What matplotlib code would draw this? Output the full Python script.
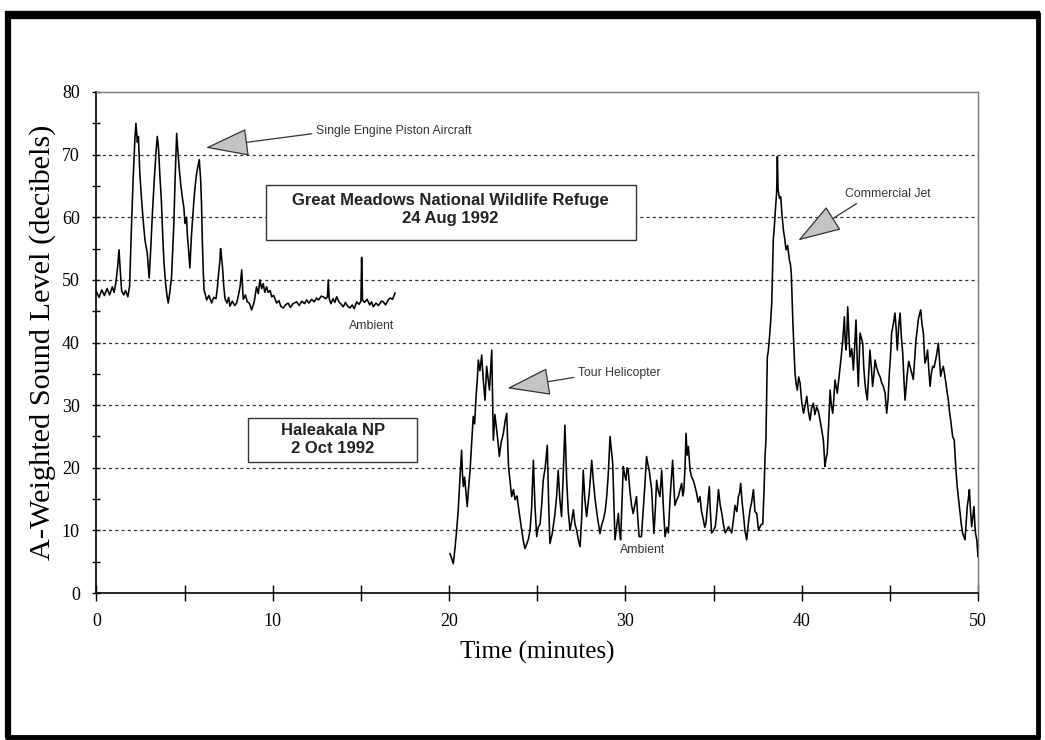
"""Aircraft noise vs ambient: Great Meadows NWR and Haleakala NP"""
import matplotlib
matplotlib.use("Agg")
import matplotlib.pyplot as plt
from matplotlib.patches import Rectangle
from matplotlib.lines import Line2D

# ---- data ----
gm_t = [0.0, 0.15, 0.3, 0.45, 0.6, 0.75, 0.9, 1.0, 1.1, 1.2, 1.28, 1.35, 1.43, 1.55, 1.65, 1.78,
        1.88, 1.98, 2.08, 2.18, 2.24, 2.32, 2.38, 2.46, 2.56, 2.65, 2.75, 2.82, 2.88, 2.94, 2.99,
        3.08, 3.18, 3.28, 3.38, 3.45, 3.52, 3.6, 3.68, 3.76, 3.83, 3.92, 4.0, 4.07, 4.15, 4.26,
        4.33, 4.39, 4.46, 4.55, 4.62, 4.70, 4.79, 4.89, 4.96, 5.02, 5.11, 5.16, 5.21, 5.3, 5.35,
        5.40, 5.46, 5.53, 5.6, 5.68, 5.75, 5.83, 5.91, 5.96, 6.0, 6.05, 6.10, 6.18, 6.25, 6.38,
        6.53, 6.65, 6.78, 6.85, 6.91, 7.0, 7.04, 7.1, 7.15, 7.22, 7.29, 7.4, 7.5, 7.57, 7.7,
        7.85, 7.95, 8.05, 8.15, 8.24, 8.3, 8.33, 8.45, 8.55, 8.67, 8.8, 8.95, 9.08, 9.18, 9.27,
        9.37, 9.46, 9.55, 9.65, 9.74, 9.85, 9.94, 10.05, 10.22, 10.35, 10.45, 10.6, 10.72, 10.87,
        11.0, 11.15, 11.35, 11.5, 11.65, 11.8, 11.92, 12.05, 12.2, 12.35, 12.49, 12.6, 12.75,
        12.86, 13.0, 13.1, 13.15, 13.2, 13.3, 13.42, 13.52, 13.62, 13.75, 13.88, 14.0, 14.12,
        14.25, 14.38, 14.5, 14.62, 14.76, 14.9, 15.0, 15.04, 15.09, 15.2, 15.35, 15.5, 15.6,
        15.7, 15.85, 16.0, 16.15, 16.27, 16.4, 16.55, 16.65, 16.8, 16.93]
gm_db = [48.1, 47.2, 48.4, 47.5, 48.6, 47.6, 48.9, 48.0, 49.5, 52.0, 54.8, 51.5, 48.2, 47.6, 48.3, 47.3,
         49.0, 58.0, 66.0, 72.5, 75.0, 72.0, 72.9, 67.0, 62.8, 59.5, 56.4, 55.2, 54.3, 52.0, 50.3,
         55.0, 61.0, 66.0, 70.5, 72.9, 71.0, 66.5, 62.8, 57.0, 52.7, 49.5, 47.5, 46.3, 47.8, 50.5,
         55.0, 59.0, 66.0, 73.4, 70.5, 67.6, 65.0, 62.8, 61.5, 59.0, 60.0, 57.0, 55.3, 51.9, 55.0,
         57.6, 60.0, 62.8, 65.0, 67.0, 68.0, 69.2, 66.0, 62.0, 56.9, 52.0, 48.4, 47.6, 46.8, 47.5,
         46.3, 47.2, 47.0, 48.5, 50.5, 53.0, 55.0, 53.5, 52.0, 49.0, 47.0, 46.3, 47.2, 45.8, 46.6,
         45.9, 46.3, 47.5, 49.0, 51.6, 48.0, 46.9, 47.6, 46.5, 46.3, 45.2, 46.5, 48.9, 47.8, 50.0,
         48.6, 49.4, 48.0, 48.9, 48.0, 48.3, 47.3, 47.5, 46.3, 46.7, 45.8, 45.5, 46.0, 46.3,
         45.6, 46.2, 46.5, 45.9, 46.6, 46.2, 46.8, 46.3, 46.9, 46.5, 47.1, 46.8, 47.4,
         47.3, 47.0, 47.3, 50.0, 47.0, 46.2, 47.0, 46.4, 47.3, 46.5, 46.1, 45.7, 46.4,
         45.8, 45.5, 46.0, 45.4, 46.5, 46.1, 46.6, 53.6, 46.8, 46.4, 46.9, 46.0, 46.5,
         45.7, 46.3, 45.9, 46.6, 46.5, 46.0, 46.8, 47.1, 46.9, 47.9]

ha_t = [20.05, 20.14, 20.24, 20.33, 20.43, 20.52, 20.6, 20.71, 20.76, 20.81, 20.88, 20.96, 21.03,
        21.1, 21.19, 21.28, 21.37, 21.45, 21.53, 21.6, 21.66, 21.75, 21.85, 21.94, 22.04, 22.13,
        22.2, 22.29, 22.35, 22.42, 22.51, 22.6, 22.7, 22.78, 22.85, 22.95, 23.08, 23.18, 23.27,
        23.37, 23.45, 23.55, 23.65, 23.74, 23.85, 23.93, 24.02, 24.12, 24.2, 24.3, 24.4, 24.5,
        24.59, 24.68, 24.78, 24.87, 24.97, 25.06, 25.16, 25.25, 25.34, 25.45, 25.57, 25.65,
        25.72, 25.85, 26.0, 26.1, 26.19, 26.28, 26.38, 26.47, 26.57, 26.67, 26.76, 26.86, 26.95,
        27.05, 27.14, 27.24, 27.33, 27.43, 27.52, 27.61, 27.7, 27.8, 27.95, 28.09, 28.18, 28.28,
        28.42, 28.56, 28.65, 28.75, 28.85, 28.94, 29.03, 29.13, 29.2, 29.28, 29.35, 29.41, 29.5,
        29.6, 29.66, 29.73, 29.8, 29.88, 29.95, 30.03, 30.1, 30.16, 30.25, 30.35, 30.44, 30.53,
        30.63, 30.7, 30.78, 30.91, 31.01, 31.1, 31.2, 31.28, 31.35, 31.42, 31.49, 31.55, 31.62,
        31.7, 31.77, 31.85, 31.96, 32.06, 32.15, 32.25, 32.35, 32.44, 32.53, 32.6, 32.68, 32.75,
        32.81, 32.9, 33.0, 33.1, 33.19, 33.26, 33.32, 33.38, 33.44, 33.5, 33.57, 33.62, 33.67,
        33.76, 33.85, 33.95, 34.04, 34.13, 34.23, 34.32, 34.42, 34.5, 34.57, 34.66, 34.76, 34.82,
        34.89, 35.0, 35.1, 35.2, 35.28, 35.38, 35.47, 35.56, 35.66, 35.75, 35.85, 35.95, 36.03,
        36.12, 36.22, 36.32, 36.41, 36.48, 36.54, 36.62, 36.69, 36.78, 36.88, 36.97, 37.07,
        37.16, 37.26, 37.35, 37.45, 37.55, 37.64, 37.72, 37.79, 37.86, 37.92, 37.97, 38.05,
        38.1, 38.16, 38.23, 38.3, 38.39, 38.46, 38.52, 38.58, 38.62, 38.66, 38.74, 38.81, 38.88,
        38.96, 39.04, 39.11, 39.2, 39.3, 39.36, 39.41, 39.5, 39.56, 39.62, 39.68, 39.75, 39.83,
        39.91, 40.0, 40.1, 40.2, 40.29, 40.38, 40.47, 40.56, 40.66, 40.75, 40.85, 40.95, 41.04,
        41.14, 41.23, 41.32, 41.38, 41.45, 41.53, 41.61, 41.68, 41.76, 41.82, 41.89, 41.95,
        42.02, 42.1, 42.18, 42.25, 42.33, 42.42, 42.47, 42.52, 42.57, 42.61, 42.68, 42.74,
        42.84, 42.93, 43.0, 43.08, 43.15, 43.21, 43.31, 43.46, 43.52, 43.59, 43.65, 43.72, 43.8,
        43.87, 43.95, 44.02, 44.1, 44.16, 44.25, 44.35, 44.45, 44.54, 44.63, 44.73, 44.82, 44.9,
        44.97, 45.04, 45.1, 45.2, 45.29, 45.36, 45.42, 45.5, 45.58, 45.65, 45.73, 45.8, 45.86,
        45.93, 45.99, 46.07, 46.14, 46.24, 46.33, 46.4, 46.48, 46.55, 46.61, 46.68, 46.75, 46.82,
        46.9, 46.95, 46.99, 47.07, 47.14, 47.2, 47.28, 47.35, 47.43, 47.5, 47.56, 47.65, 47.75,
        47.82, 47.88, 47.95, 48.03, 48.1, 48.18, 48.25, 48.32, 48.38, 48.45, 48.56, 48.65, 48.75,
        48.82, 48.88, 48.98, 49.05, 49.13, 49.2, 49.26, 49.32, 49.39, 49.45, 49.51, 49.58, 49.64,
        49.7, 49.77, 49.82, 49.86, 49.93, 50.0]
ha_db = [6.3, 5.6, 4.7, 7.0, 10.0, 13.3, 17.5, 22.8, 19.0, 17.0, 18.5, 15.9, 13.8,
         16.5, 19.6, 24.0, 28.2, 27.0, 31.4, 34.0, 37.2, 35.5, 38.0, 34.0, 30.8, 36.2,
         34.5, 32.4, 35.5, 38.8, 24.4, 28.5, 26.0, 24.0, 21.8, 24.0, 25.5, 27.5, 28.7,
         20.2, 18.0, 15.4, 16.5, 14.9, 15.5, 13.8, 12.0, 10.0, 8.5, 7.1, 7.8, 8.6,
         10.0, 13.5, 21.2, 14.0, 9.0, 10.5, 11.0, 14.0, 18.0, 20.0, 23.6, 14.0,
         7.9, 9.5, 12.5, 15.5, 19.6, 15.0, 12.2, 18.5, 26.8, 18.0, 13.0, 10.0, 11.5,
         13.3, 11.0, 10.0, 8.5, 7.4, 12.0, 19.6, 15.0, 12.2, 16.0, 21.2, 18.0, 15.0,
         12.0, 9.5, 10.8, 11.7, 13.0, 15.4, 19.0, 25.0, 23.0, 20.7, 14.0, 8.5, 10.5,
         12.7, 10.0, 8.5, 14.0, 20.2, 19.0, 18.0, 20.0, 19.6, 16.5, 14.0, 12.7, 14.0,
         15.4, 12.0, 9.0, 9.0, 13.3, 17.0, 21.8, 20.5, 19.6, 18.0, 16.5, 13.0, 9.5,
         13.5, 18.0, 16.5, 15.4, 19.6, 14.0, 9.0, 10.5, 9.6, 14.9, 18.0, 21.2, 17.0,
         14.0, 14.8, 15.4, 16.5, 17.5, 15.5, 16.5, 20.0, 25.5, 22.0, 23.4, 21.5, 19.6,
         18.5, 18.0, 17.0, 15.9, 14.5, 15.4, 13.0, 11.7, 10.5, 11.2, 14.0, 17.0, 13.0,
         9.6, 10.0, 10.6, 13.5, 16.5, 14.0, 12.7, 11.0, 9.6, 10.0, 10.6, 10.0, 9.6,
         11.5, 14.0, 13.0, 15.4, 16.0, 17.5, 14.5, 12.7, 10.0, 8.5, 11.0, 13.3,
         14.5, 16.5, 13.0, 12.7, 10.0, 10.6, 11.0, 11.0, 16.0, 21.8, 24.4, 37.7,
         38.5, 40.4, 43.0, 46.3, 56.4, 59.0, 61.7, 64.0, 69.7, 64.4, 63.0, 63.3, 60.5,
         58.0, 56.5, 54.8, 55.5, 53.2, 52.5, 51.0, 43.1, 39.0, 35.1, 33.5, 32.4, 34.5,
         33.5, 30.5, 28.7, 30.0, 31.4, 29.0, 27.6, 29.5, 30.3, 28.5, 29.7, 29.0, 27.6,
         26.0, 24.4, 20.2, 21.5, 22.3, 27.0, 32.4, 30.0, 28.7, 31.0, 34.0, 33.0,
         31.9, 34.0, 36.2, 38.0, 40.4, 44.1, 40.0, 38.8, 42.0, 45.7, 41.0, 37.7,
         39.0, 35.6, 39.0, 43.6, 37.0, 33.0, 41.5, 39.9, 36.0, 33.5, 32.0, 30.8, 35.0,
         38.8, 36.0, 33.0, 35.0, 37.2, 36.0, 35.1, 34.5, 33.5, 33.0, 31.9, 28.7, 31.0,
         35.1, 38.0, 41.5, 43.0, 44.7, 42.0, 38.8, 42.5, 44.7, 41.0, 38.3, 34.0, 30.8,
         33.0, 35.1, 37.0, 36.2, 35.0, 34.1, 37.0, 40.4, 42.0, 43.6, 44.5, 45.2, 43.0,
         41.5, 39.0, 36.7, 37.5, 38.8, 36.0, 33.0, 35.0, 36.2, 36.0, 36.7, 38.0, 39.9,
         37.0, 34.6, 35.5, 36.2, 35.0, 33.5, 32.0, 30.8, 29.0, 27.6, 25.0, 24.4, 19.6,
         17.0, 15.4, 12.7, 11.0, 9.5, 9.0, 8.5, 11.0, 13.8, 15.0, 16.5, 13.0, 10.6,
         12.0, 13.8, 11.0, 9.5, 8.5, 5.8]

x_ticks = [0, 10, 20, 30, 40, 50]
y_ticks = [0, 10, 20, 30, 40, 50, 60, 70, 80]

SERIF = "Liberation Serif"
SANS = "Liberation Sans"

fig = plt.figure(figsize=(10.45, 7.4), dpi=100)
ax = fig.add_axes([0.0923, 0.1986, 0.8436, 0.6771])

# dotted grid lines at 10..70 dB
for g in y_ticks[1:-1]:
    ax.axhline(g, color="#333333", lw=0.9, ls=(0, (2.5, 2.5)), zorder=1)

ax.plot(gm_t, gm_db, color="black", lw=1.15, zorder=4)
ax.plot(ha_t, ha_db, color="black", lw=1.15, zorder=4)

ax.set_xlim(0, 50)
ax.set_ylim(0, 80)
ax.set_xticks(x_ticks)
ax.set_xticks(range(0, 51, 5), minor=True)
ax.set_yticks(y_ticks)
ax.set_yticks(range(0, 81, 5), minor=True)
ax.tick_params(axis="x", which="both", direction="inout", length=11, width=1.0,
               pad=9, labelsize=13)
ax.tick_params(axis="y", which="both", direction="inout", length=6, width=1.0,
               pad=9, labelsize=13)
for lab in ax.get_xticklabels() + ax.get_yticklabels():
    lab.set_fontfamily(SERIF)

for side in ("top", "right"):
    ax.spines[side].set_color("#777777")
    ax.spines[side].set_linewidth(1.0)
for side in ("left", "bottom"):
    ax.spines[side].set_color("black")
    ax.spines[side].set_linewidth(1.2)

ax.set_xlabel("Time (minutes)", fontsize=18, family=SERIF, labelpad=8)
ax.set_ylabel("A-Weighted Sound Level (decibels)", fontsize=21.8, family=SERIF, labelpad=4)

# boxed site labels
ax.add_patch(Rectangle((9.6, 56.4), 20.98, 8.8, facecolor="white", edgecolor="#333333",
                       lw=1.0, zorder=3))
ax.text(20.09, 61.2, "Great Meadows National Wildlife Refuge\n24 Aug 1992", ha="center",
        va="center", fontsize=12, fontweight="bold", family=SANS, color="#222222",
        linespacing=1.25, zorder=5)
ax.add_patch(Rectangle((8.61, 21.0), 9.59, 6.9, facecolor="white", edgecolor="#333333",
                       lw=1.0, zorder=3))
ax.text(13.4, 24.5, "Haleakala NP\n2 Oct 1992", ha="center", va="center", fontsize=12,
        fontweight="bold", family=SANS, color="#222222", linespacing=1.25, zorder=5)

# arrow annotations
arrow = dict(arrowstyle="-|>,head_length=2.8,head_width=0.9", mutation_scale=10,
             fc="#c4c4c4", ec="#333333", lw=0.9, shrinkA=1, shrinkB=0)
ax.annotate("Single Engine Piston Aircraft", xy=(6.2, 71.1), xytext=(12.45, 73.8),
            ha="left", va="center", fontsize=8.8, family=SANS, color="#333333",
            arrowprops=dict(arrow, relpos=(0.0, 0.3)), zorder=6)
ax.annotate("Commercial Jet", xy=(39.8, 56.3), xytext=(42.46, 63.7),
            ha="left", va="center", fontsize=8.8, family=SANS, color="#333333",
            arrowprops=dict(arrow, relpos=(0.2, 0.0)), zorder=6)
ax.annotate("Tour Helicopter", xy=(23.3, 32.7), xytext=(27.31, 35.1),
            ha="left", va="center", fontsize=8.8, family=SANS, color="#333333",
            arrowprops=dict(arrow, relpos=(0.0, 0.2)), zorder=6)
ax.text(15.6, 42.6, "Ambient", ha="center", va="center", fontsize=8.8, family=SANS,
        color="#333333", zorder=5)
ax.text(30.97, 6.8, "Ambient", ha="center", va="center", fontsize=8.8, family=SANS,
        color="#333333", zorder=5)

# black page frame
W, H = 1045.0, 740.0
frame = [((5, 1040), (15, 15), 6), ((7.5, 7.5), (12, 738), 4.5),
         ((1038, 1038), (12, 738), 3.5), ((5, 1040), (736.5, 736.5), 3.5)]
for xs, ys, lw in frame:
    fig.add_artist(Line2D([x / W for x in xs], [1 - y / H for y in ys], color="black",
                          lw=lw, transform=fig.transFigure, solid_capstyle="butt"))

fig.savefig("out.png", dpi=100)
